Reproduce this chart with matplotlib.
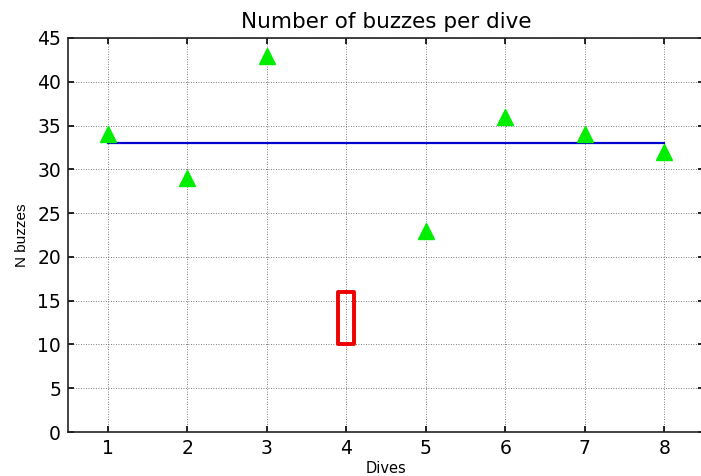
import matplotlib
matplotlib.use("Agg")
import matplotlib.pyplot as plt
from matplotlib.patches import Rectangle

plt.rcParams['font.family'] = ['DejaVu Sans']

dives = [1, 2, 3, 5, 6, 7, 8]
buzzes = [34, 29, 43, 23, 36, 34, 32]
mean_x = [1, 8]
mean_y = [33, 33]
box_x = 4
box_y = [10, 16]
xticks = [1, 2, 3, 4, 5, 6, 7, 8]
yticks = [0, 5, 10, 15, 20, 25, 30, 35, 40, 45]

fig = plt.figure(figsize=(7.01, 4.76), dpi=100)
ax = fig.add_axes([68/701, 44/476, 636/701, 394/476])

ax.plot(mean_x, mean_y, color='#0000cc', lw=1.6, zorder=3)
ax.plot(dives, buzzes, linestyle='none', marker='^', color='#00ee00',
        markersize=11.5, markeredgecolor='#00ee00', zorder=4, clip_on=False)

bw = 0.2
rect = Rectangle((box_x - bw/2, box_y[0]), bw, box_y[1] - box_y[0],
                 fill=False, edgecolor='#ee0000', lw=2.8, zorder=5,
                 joinstyle='round')
ax.add_patch(rect)

ax.set_xlim(0.5, 8.5)
ax.set_ylim(0, 45)
ax.set_xticks(xticks)
ax.set_yticks(yticks)
ax.tick_params(direction='in', length=4, width=1.2, labelsize=13.5,
               top=True, right=True, pad=5)
ax.grid(True, linestyle=(0, (1, 2)), color='#555555', lw=0.6)
for s in ax.spines.values():
    s.set_linewidth(1.2)
    s.set_color('#222222')
ax.spines['right'].set_visible(False)

ax.set_title('Number of buzzes per dive', fontsize=15.5, pad=7)
ax.set_xlabel('Dives', fontsize=10.5, labelpad=2)
ax.set_ylabel('N buzzes', fontsize=11, labelpad=6,
              family=['Liberation Sans', 'DejaVu Sans'])

fig.savefig('out.png', dpi=100)
